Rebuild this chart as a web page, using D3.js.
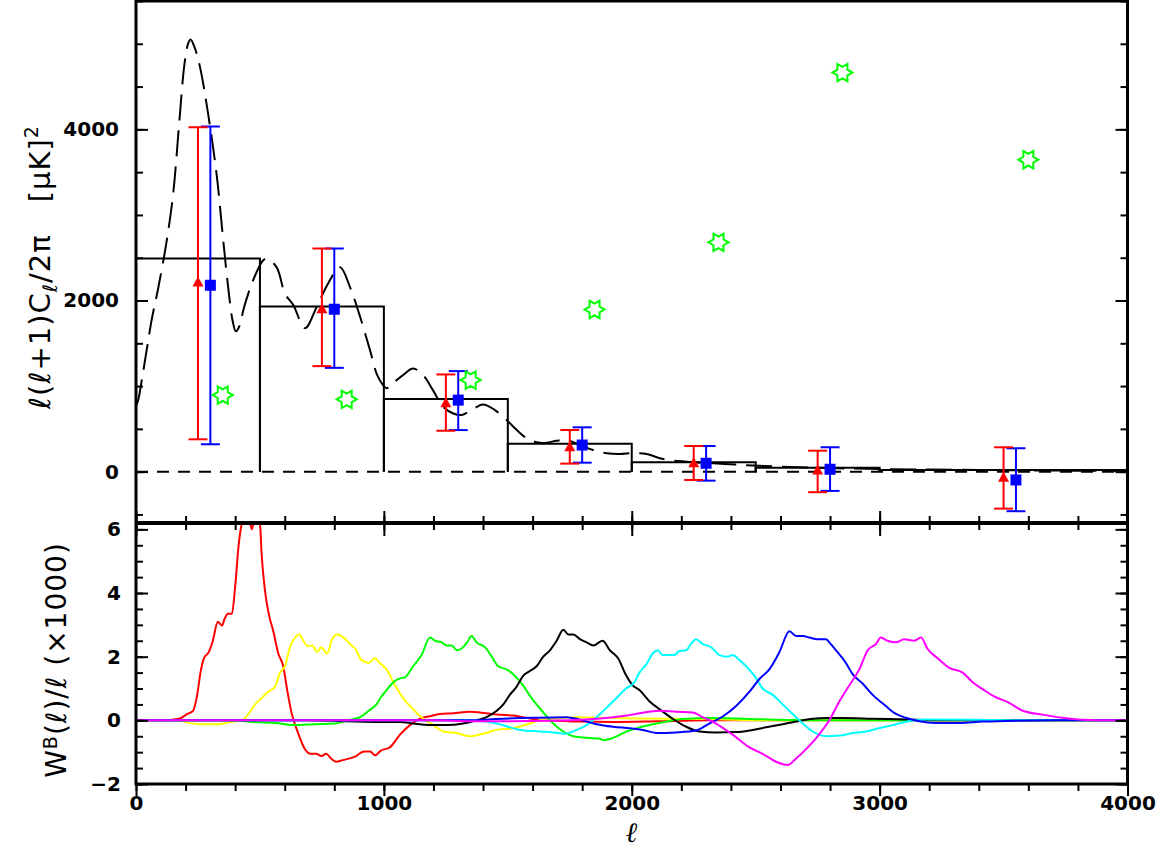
<!DOCTYPE html>
<html>
<head>
<meta charset="utf-8">
<script src="https://cdn.jsdelivr.net/npm/d3@7"></script>
<style>
  body { margin: 0; background: #fff; }
  .tick text { font-family: "DejaVu Sans", sans-serif; font-weight: bold; font-size: 20px; fill: #000; }
  .lab { font-family: "DejaVu Sans", sans-serif; font-size: 28px; fill: #000; letter-spacing: 1px; }
</style>
</head>
<body>
<svg id="chart" width="1167" height="850"></svg>
<script>
// band powers of the histogram (solid black)
var binEdges = [0, 500, 1000, 1500, 2000, 2500, 3000, 4000];
var binPower = [2490, 1930, 850, 325, 110, 45, 20];

// red triangles
var redL   = [250, 750, 1250, 1750, 2250, 2750, 3500];
var redVal = [2215, 1905, 805, 292, 105, 20, -65];
var redLo  = [378, 1233, 478, 94, -97, -240, -432];
var redHi  = [4025, 2607, 1136, 487, 300, 245, 285];

// blue squares
var blueL   = [300, 800, 1300, 1800, 2300, 2800, 3550];
var blueVal = [2178, 1898, 836, 311, 98, 28, -97];
var blueLo  = [320, 1213, 486, 105, -105, -225, -462];
var blueHi  = [4034, 2607, 1175, 518, 300, 285, 273];

// green stars
var starL   = [350, 850, 1350, 1850, 2350, 2850, 3600];
var starVal = [895, 845, 1070, 1895, 2680, 4664, 3645];

// model spectrum (long dashes)
var thL = [2, 10, 25, 43, 63, 90, 124, 150, 175, 195, 210, 220, 235, 258, 291, 325, 352, 372, 390, 403,
  420, 433, 473, 513, 527, 567, 601, 634, 682, 729, 775, 823, 863, 904, 944, 976, 1011, 1037, 1077, 1118,
  1158, 1198, 1239, 1280, 1314, 1354, 1400, 1448, 1495, 1536, 1576, 1617, 1657, 1697, 1737, 1791, 1844,
  1899, 1952, 2006, 2060, 2114, 2168, 2222, 2275, 2329, 2396, 2464, 2600, 2800, 3000, 3300, 3600, 4000];
var thV = [780, 850, 1100, 1420, 1770, 2150, 2700, 3250, 4100, 4750, 5000, 5050, 4970, 4730, 4180, 3480,
  2700, 2150, 1760, 1640, 1720, 1890, 2240, 2470, 2490, 2390, 2080, 1950, 1677, 1925, 2200, 2390, 2160,
  1810, 1420, 1110, 975, 1035, 1128, 1206, 1128, 953, 758, 680, 662, 720, 786, 720, 603, 487, 390, 343,
  338, 362, 370, 312, 253, 215, 206, 218, 206, 156, 128, 117, 105, 98, 86, 75, 58, 42, 31, 22, 15, 8];

// window functions W(l)/l x1000, [l, value]
var wRed = [[0,0],[135,0],[147,0.02],[180,0.07],[207,0.2],[230,0.3],[247,0.8],[260,1.5],[274,1.95],[294,2.15],
  [310,2.5],[330,3.1],[347,2.98],[358,3.2],[371,3.35],[387,3.35],[400,4.2],[414,5.5],[430,6.3],[440,6.5],
  [455,6.4],[467,6.0],[480,6.4],[494,6.35],[500,6.2],[507,5.2],[520,4.1],[534,3.4],[554,2.8],[574,2.1],
  [594,1.7],[611,0.9],[627,0.25],[654,-0.4],[681,-0.9],[705,-1.05],[727,-1.05],[748,-1.12],[767,-1.05],
  [787,-1.2],[807,-1.3],[834,-1.25],[881,-1.15],[921,-0.98],[945,-0.98],[964,-1.1],[988,-0.95],[1024,-0.85],
  [1065,-0.45],[1105,-0.15],[1145,0.05],[1186,0.13],[1226,0.2],[1280,0.22],[1347,0.27],[1387,0.25],
  [1455,0.18],[1522,0.15],[1589,0.06],[1656,0],[1724,-0.02],[1791,-0.04],[1925,-0.05],[2100,-0.03],
  [2300,0],[4000,0]];
var wYellow = [[0,0],[175,0],[210,-0.08],[267,-0.12],[333,-0.12],[380,-0.05],[430,0],[454,0.2],[481,0.5],
  [507,0.7],[534,0.9],[561,1.05],[581,1.5],[601,1.7],[621,2.3],[642,2.6],[659,2.7],[675,2.5],[694,2.33],
  [711,2.35],[731,2.15],[747,2.3],[771,2.1],[791,2.55],[811,2.7],[838,2.6],[865,2.38],[885,2.25],[909,1.9],
  [939,1.8],[963,1.95],[984,1.8],[1011,1.6],[1038,1.2],[1078,0.7],[1118,0.35],[1159,0.05],[1199,-0.15],
  [1240,-0.35],[1293,-0.4],[1347,-0.5],[1401,-0.42],[1455,-0.3],[1522,-0.25],[1589,-0.1],[1656,0.05],
  [1791,0.1],[1925,0.07],[2300,0.04],[2600,0],[4000,0]];
var wGreen = [[0,0],[400,0],[467,-0.05],[561,-0.08],[642,-0.15],[721,-0.12],[801,-0.1],[855,0],[908,0.12],
  [939,0.3],[970,0.5],[990,0.75],[1011,0.95],[1038,1.2],[1065,1.32],[1085,1.35],[1118,1.7],[1152,2.05],
  [1186,2.6],[1206,2.5],[1233,2.45],[1253,2.35],[1273,2.35],[1296,2.2],[1320,2.3],[1336,2.45],[1354,2.65],
  [1374,2.45],[1408,2.3],[1435,2.0],[1461,1.7],[1495,1.6],[1522,1.45],[1556,1.15],[1596,0.7],[1643,0.25],
  [1683,-0.1],[1724,-0.35],[1764,-0.5],[1818,-0.55],[1872,-0.58],[1885,-0.62],[1925,-0.55],[1979,-0.35],
  [2031,-0.22],[2085,-0.12],[2152,-0.02],[2219,0.05],[2313,0.07],[2448,0.05],[2582,0.02],[2800,0],[4000,0]];
var wBlack = [[0,0],[700,0],[850,-0.03],[984,-0.05],[1065,-0.05],[1118,-0.1],[1186,-0.15],[1253,-0.15],
  [1320,-0.1],[1374,0],[1414,0.1],[1455,0.3],[1482,0.5],[1508,0.8],[1535,1.05],[1562,1.4],[1589,1.55],
  [1616,1.7],[1643,2.0],[1670,2.2],[1697,2.5],[1724,2.85],[1744,2.7],[1764,2.7],[1791,2.55],[1818,2.45],
  [1845,2.35],[1882,2.5],[1912,2.2],[1945,1.95],[1975,1.45],[2004,1.1],[2031,0.95],[2071,0.6],[2112,0.35],
  [2165,0.05],[2219,-0.2],[2273,-0.35],[2340,-0.38],[2421,-0.37],[2488,-0.3],[2542,-0.22],[2609,-0.12],
  [2676,-0.02],[2730,0.05],[2784,0.07],[2851,0.07],[2972,0.05],[3150,0.02],[3300,0],[4000,0]];
var wCyan = [[0,0],[1350,0],[1455,-0.1],[1549,-0.3],[1629,-0.35],[1683,-0.38],[1730,-0.42],[1777,-0.3],
  [1818,-0.15],[1858,0.1],[1899,0.4],[1939,0.7],[1977,1.0],[2011,1.2],[2031,1.5],[2058,1.75],[2085,2.1],
  [2105,2.2],[2125,2.05],[2152,2.05],[2172,2.05],[2192,2.18],[2219,2.2],[2239,2.4],[2259,2.55],[2286,2.4],
  [2320,2.3],[2354,2.05],[2387,2.0],[2407,2.05],[2434,1.9],[2461,1.7],[2495,1.4],[2528,1.0],[2569,0.8],
  [2609,0.5],[2649,0.2],[2690,-0.1],[2730,-0.35],[2784,-0.5],[2838,-0.48],[2891,-0.4],[2945,-0.35],
  [2985,-0.27],[3052,-0.15],[3120,-0.02],[3187,0.03],[3388,0.02],[3600,0],[4000,0]];
var wBlue = [[0,0],[1350,0],[1450,0.04],[1600,0.08],[1738,0.1],[1791,0.02],[1858,-0.12],[1925,-0.2],
  [1992,-0.25],[2044,-0.3],[2105,-0.4],[2179,-0.38],[2259,-0.32],[2313,-0.1],[2367,0.12],[2421,0.45],
  [2475,0.9],[2515,1.3],[2555,1.6],[2596,2.15],[2636,2.8],[2663,2.65],[2690,2.65],[2717,2.6],[2750,2.55],
  [2784,2.55],[2797,2.45],[2824,2.2],[2864,1.8],[2891,1.45],[2932,1.15],[2972,0.8],[3025,0.45],[3066,0.2],
  [3106,0.08],[3160,-0.03],[3227,-0.08],[3321,-0.08],[3415,-0.04],[3550,-0.01],[3700,0],[4000,0]];
var wMagenta = [[0,0],[1200,0],[1350,-0.03],[1600,-0.02],[1791,0.02],[1925,0.1],[1980,0.15],[2031,0.22],
  [2112,0.3],[2179,0.27],[2246,0.25],[2286,0.1],[2340,-0.1],[2407,-0.45],[2475,-0.85],[2528,-1.05],
  [2582,-1.3],[2629,-1.4],[2663,-1.2],[2710,-0.85],[2750,-0.5],[2797,0],[2838,0.6],[2878,1.1],[2918,1.6],
  [2952,2.2],[2985,2.4],[3005,2.6],[3032,2.5],[3066,2.45],[3099,2.55],[3140,2.5],[3167,2.6],[3193,2.25],
  [3234,1.95],[3281,1.65],[3335,1.5],[3375,1.2],[3422,0.95],[3462,0.75],[3523,0.55],[3577,0.3],[3657,0.18],
  [3738,0.08],[3819,0.02],[3926,0],[4000,0]];

var windows = [
  {data: wRed, color: '#ff0000'},
  {data: wYellow, color: '#ffff00'},
  {data: wGreen, color: '#00ff00'},
  {data: wBlack, color: '#000000'},
  {data: wCyan, color: '#00ffff'},
  {data: wBlue, color: '#0000ff'},
  {data: wMagenta, color: '#ff00ff'}
];

var svg = d3.select('#chart');
var frame = {left: 136, right: 1127.5, top: 1, mid: 523, bottom: 784};

var x = d3.scaleLinear().domain([0, 4000]).range([frame.left, frame.right]);
var yTop = d3.scaleLinear().domain([-600, 5500]).range([frame.mid, frame.top]);
var yBot = d3.scaleLinear().domain([-2, 6.2]).range([frame.bottom, frame.mid]);

var defs = svg.append('defs');
defs.append('clipPath').attr('id', 'clipTop').append('rect')
    .attr('x', frame.left).attr('y', frame.top)
    .attr('width', frame.right - frame.left).attr('height', frame.mid - frame.top);
defs.append('clipPath').attr('id', 'clipBot').append('rect')
    .attr('x', frame.left).attr('y', frame.mid)
    .attr('width', frame.right - frame.left).attr('height', frame.bottom - frame.mid);

function range(a, b, s) {
    var out = [];
    for (var v = a; v <= b + 1e-9; v += s) out.push(+v.toFixed(4));
    return out;
}

// draw one side of ticks; size negative = inward
function ticks(axisFn, scale, pos, values, size, labels, pad) {
    var vertical = axisFn === d3.axisLeft || axisFn === d3.axisRight;
    var g = svg.append('g')
        .attr('transform', vertical ? 'translate(' + pos + ',0)' : 'translate(0,' + pos + ')')
        .call(axisFn(scale).tickValues(values).tickSize(size).tickPadding(pad || 0)
            .tickFormat(labels ? function(d) { return d < 0 ? '\u2212' + (-d) : d; } : ''));
    g.select('.domain').remove();
    g.selectAll('.tick line').attr('stroke', '#000').attr('stroke-width', 2);
    return g;
}

// ---- top panel ----
var gTop = svg.append('g').attr('clip-path', 'url(#clipTop)');

gTop.append('line')
    .attr('x1', x(0)).attr('x2', x(4000))
    .attr('y1', yTop(0)).attr('y2', yTop(0))
    .attr('stroke', '#000').attr('stroke-width', 2).attr('stroke-dasharray', '12,9');

gTop.selectAll('.bin')
    .data(binPower)
  .enter()
  .append('path')
    .attr('class', 'bin')
    .attr('fill', 'none').attr('stroke', '#000').attr('stroke-width', 2)
    .attr('d', function(d, i) {
        return 'M' + x(binEdges[i]) + ',' + yTop(0) + 'V' + yTop(d) +
               'H' + x(binEdges[i + 1]) + 'V' + yTop(0);
    });

var theory = d3.line()
    .x(function(d) { return x(d[0]); })
    .y(function(d) { return yTop(d[1]); })
    .curve(d3.curveCatmullRom);

gTop.append('path')
    .datum(thL.map(function(l, i) { return [l, thV[i]]; }))
    .attr('fill', 'none').attr('stroke', '#000').attr('stroke-width', 2)
    .attr('stroke-dasharray', '26,10')
    .attr('d', theory);

function errorBars(ls, lo, hi, color) {
    var g = gTop.append('g').attr('stroke', color).attr('stroke-width', 2);
    ls.forEach(function(l, i) {
        var cx = x(l);
        g.append('line').attr('x1', cx).attr('x2', cx).attr('y1', yTop(lo[i])).attr('y2', yTop(hi[i]));
        g.append('line').attr('x1', cx - 9.5).attr('x2', cx + 9.5).attr('y1', yTop(lo[i])).attr('y2', yTop(lo[i]));
        g.append('line').attr('x1', cx - 9.5).attr('x2', cx + 9.5).attr('y1', yTop(hi[i])).attr('y2', yTop(hi[i]));
    });
}
errorBars(blueL, blueLo, blueHi, '#0000ff');
errorBars(redL, redLo, redHi, '#ff0000');

gTop.selectAll('.sq')
    .data(blueL)
  .enter()
  .append('rect')
    .attr('x', function(d) { return x(d) - 5.5; })
    .attr('y', function(d, i) { return yTop(blueVal[i]) - 5.5; })
    .attr('width', 11).attr('height', 11)
    .attr('fill', '#0000ff');

gTop.selectAll('.tri')
    .data(redL)
  .enter()
  .append('path')
    .attr('fill', '#ff0000')
    .attr('d', function(d, i) {
        var cx = x(d), cy = yTop(redVal[i]);
        return 'M' + (cx - 5.5) + ',' + (cy + 4.5) + 'L' + (cx + 5.5) + ',' + (cy + 4.5) +
               'L' + cx + ',' + (cy - 5.5) + 'Z';
    });

function hexStar(R) {
    var pts = [];
    for (var k = 0; k < 12; k++) {
        var a = k * Math.PI / 6;
        var r = k % 2 === 0 ? R : R / Math.sqrt(3);
        pts.push([r * Math.cos(a), r * Math.sin(a)]);
    }
    return 'M' + pts.map(function(p) { return p.join(','); }).join('L') + 'Z';
}

gTop.selectAll('.star')
    .data(starL)
  .enter()
  .append('path')
    .attr('transform', function(d, i) { return 'translate(' + x(d) + ',' + yTop(starVal[i]) + ')'; })
    .attr('d', hexStar(10))
    .attr('fill', 'none').attr('stroke', '#00ff00').attr('stroke-width', 2);

// ---- bottom panel ----
var gBot = svg.append('g').attr('clip-path', 'url(#clipBot)');
var wline = d3.line()
    .x(function(d) { return x(d[0]); })
    .y(function(d) { return yBot(d[1]); })
    .curve(d3.curveMonotoneX);

gBot.selectAll('.win')
    .data(windows)
  .enter()
  .append('path')
    .attr('fill', 'none')
    .attr('stroke', function(d) { return d.color; })
    .attr('stroke-width', 2)
    .attr('d', function(d) { return wline(d.data); });

// ---- axes ----
var xMajor = range(0, 4000, 1000), xMinor = range(0, 4000, 200);
ticks(d3.axisBottom, x, frame.top, xMinor, -7);
ticks(d3.axisBottom, x, frame.top, xMajor, -13);
ticks(d3.axisTop, x, frame.mid, xMinor, -7);
ticks(d3.axisTop, x, frame.mid, xMajor, -13);
ticks(d3.axisBottom, x, frame.mid, xMinor, -7);
ticks(d3.axisBottom, x, frame.mid, xMajor, -12);
ticks(d3.axisTop, x, frame.bottom, xMinor, -7);
ticks(d3.axisTop, x, frame.bottom, xMajor, -12);
ticks(d3.axisBottom, x, frame.bottom, xMajor, 0, true, 12);

var yTopMinor = range(-500, 5500, 500), yTopMajor = [0, 2000, 4000];
ticks(d3.axisLeft, yTop, frame.left, yTopMinor, -7);
ticks(d3.axisLeft, yTop, frame.left, yTopMajor, -12, true, 17);
ticks(d3.axisRight, yTop, frame.right, yTopMinor, -7);
ticks(d3.axisRight, yTop, frame.right, yTopMajor, -12);

var yBotMinor = range(-2, 6, 0.5), yBotMajor = [-2, 0, 2, 4, 6];
ticks(d3.axisLeft, yBot, frame.left, yBotMinor, -7);
ticks(d3.axisLeft, yBot, frame.left, yBotMajor, -12, true, 15);
ticks(d3.axisRight, yBot, frame.right, yBotMinor, -7);
ticks(d3.axisRight, yBot, frame.right, yBotMajor, -12);

svg.append('rect')
    .attr('x', frame.left).attr('y', frame.top)
    .attr('width', frame.right - frame.left).attr('height', frame.bottom - frame.top)
    .attr('fill', 'none').attr('stroke', '#000').attr('stroke-width', 3);
svg.append('line')
    .attr('x1', frame.left).attr('x2', frame.right).attr('y1', frame.mid).attr('y2', frame.mid)
    .attr('stroke', '#000').attr('stroke-width', 4);

// ---- labels ----
svg.append('text').attr('class', 'lab')
    .attr('x', x(2000)).attr('y', 842).attr('text-anchor', 'middle')
    .style('font-family', '"DejaVu Serif", serif').style('font-style', 'italic')
    .text('\u2113');

var yl = svg.append('text').attr('class', 'lab')
    .attr('transform', 'translate(50,267) rotate(-90)').attr('text-anchor', 'middle')
    .style('font-size', '29px');
yl.append('tspan').text('\u2113(\u2113+1)C');
yl.append('tspan').attr('dy', 7).style('font-size', '20px').text('\u2113');
yl.append('tspan').attr('dy', -7).text('/2\u03c0');
yl.append('tspan').attr('dx', 32).text('[\u03bcK]');
yl.append('tspan').attr('dy', -12).style('font-size', '19px').text('2');

var bl = svg.append('text').attr('class', 'lab')
    .attr('transform', 'translate(66,660) rotate(-90)').attr('text-anchor', 'middle');
bl.append('tspan').text('W');
bl.append('tspan').attr('dy', -9).style('font-size', '19px').text('B');
bl.append('tspan').attr('dy', 9).text('(\u2113)/\u2113 (\u00d71000)');
</script>
</body>
</html>
